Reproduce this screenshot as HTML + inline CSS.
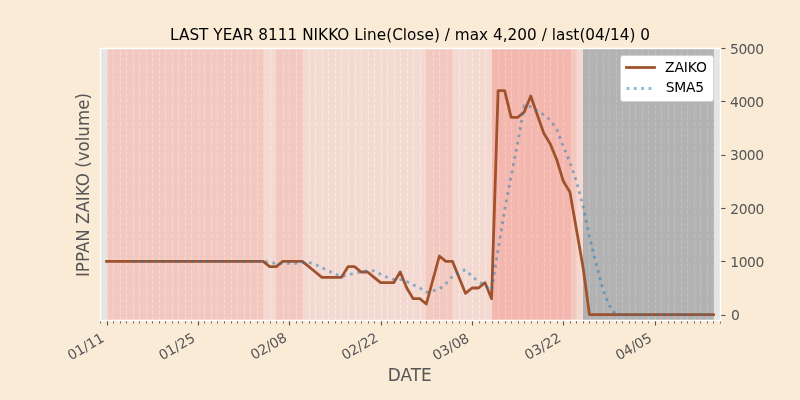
<!DOCTYPE html>
<html lang="en">
<head>
<meta charset="utf-8">
<title>LAST YEAR 8111 NIKKO</title>
<style>html,body{margin:0;padding:0;background:#faebd7;width:800px;height:400px;overflow:hidden}</style>
</head>
<body>
<svg width="800" height="400" viewBox="0 0 800 400" style="display:block;position:absolute;left:0;top:0" font-family="'DejaVu Sans', 'Liberation Sans', sans-serif">
<clipPath id="axclip"><rect x="100" y="48" width="620" height="272"/></clipPath>
<rect x="0" y="0" width="800" height="400" fill="#faebd7"/>
<rect x="100" y="48" width="620" height="272" fill="#e5e5e5"/>
<g clip-path="url(#axclip)" stroke="#ffffff" stroke-width="1.111" stroke-dasharray="4.111 1.778" fill="none">
<path d="M100.5 320.5V48.5"/>
<path d="M107.5 320.5V48.5"/>
<path d="M113.5 320.5V48.5"/>
<path d="M120.5 320.5V48.5"/>
<path d="M126.5 320.5V48.5"/>
<path d="M133.5 320.5V48.5"/>
<path d="M139.5 320.5V48.5"/>
<path d="M146.5 320.5V48.5"/>
<path d="M152.5 320.5V48.5"/>
<path d="M159.5 320.5V48.5"/>
<path d="M165.5 320.5V48.5"/>
<path d="M172.5 320.5V48.5"/>
<path d="M178.5 320.5V48.5"/>
<path d="M185.5 320.5V48.5"/>
<path d="M191.5 320.5V48.5"/>
<path d="M198.5 320.5V48.5"/>
<path d="M204.5 320.5V48.5"/>
<path d="M211.5 320.5V48.5"/>
<path d="M217.5 320.5V48.5"/>
<path d="M224.5 320.5V48.5"/>
<path d="M231.5 320.5V48.5"/>
<path d="M237.5 320.5V48.5"/>
<path d="M244.5 320.5V48.5"/>
<path d="M250.5 320.5V48.5"/>
<path d="M257.5 320.5V48.5"/>
<path d="M263.5 320.5V48.5"/>
<path d="M270.5 320.5V48.5"/>
<path d="M276.5 320.5V48.5"/>
<path d="M283.5 320.5V48.5"/>
<path d="M289.5 320.5V48.5"/>
<path d="M296.5 320.5V48.5"/>
<path d="M302.5 320.5V48.5"/>
<path d="M309.5 320.5V48.5"/>
<path d="M315.5 320.5V48.5"/>
<path d="M322.5 320.5V48.5"/>
<path d="M328.5 320.5V48.5"/>
<path d="M335.5 320.5V48.5"/>
<path d="M341.5 320.5V48.5"/>
<path d="M348.5 320.5V48.5"/>
<path d="M355.5 320.5V48.5"/>
<path d="M361.5 320.5V48.5"/>
<path d="M368.5 320.5V48.5"/>
<path d="M374.5 320.5V48.5"/>
<path d="M381.5 320.5V48.5"/>
<path d="M387.5 320.5V48.5"/>
<path d="M394.5 320.5V48.5"/>
<path d="M400.5 320.5V48.5"/>
<path d="M407.5 320.5V48.5"/>
<path d="M413.5 320.5V48.5"/>
<path d="M420.5 320.5V48.5"/>
<path d="M426.5 320.5V48.5"/>
<path d="M433.5 320.5V48.5"/>
<path d="M439.5 320.5V48.5"/>
<path d="M446.5 320.5V48.5"/>
<path d="M452.5 320.5V48.5"/>
<path d="M459.5 320.5V48.5"/>
<path d="M465.5 320.5V48.5"/>
<path d="M472.5 320.5V48.5"/>
<path d="M479.5 320.5V48.5"/>
<path d="M485.5 320.5V48.5"/>
<path d="M492.5 320.5V48.5"/>
<path d="M498.5 320.5V48.5"/>
<path d="M505.5 320.5V48.5"/>
<path d="M511.5 320.5V48.5"/>
<path d="M518.5 320.5V48.5"/>
<path d="M524.5 320.5V48.5"/>
<path d="M531.5 320.5V48.5"/>
<path d="M537.5 320.5V48.5"/>
<path d="M544.5 320.5V48.5"/>
<path d="M550.5 320.5V48.5"/>
<path d="M557.5 320.5V48.5"/>
<path d="M563.5 320.5V48.5"/>
<path d="M570.5 320.5V48.5"/>
<path d="M576.5 320.5V48.5"/>
<path d="M583.5 320.5V48.5"/>
<path d="M589.5 320.5V48.5"/>
<path d="M596.5 320.5V48.5"/>
<path d="M603.5 320.5V48.5"/>
<path d="M609.5 320.5V48.5"/>
<path d="M616.5 320.5V48.5"/>
<path d="M622.5 320.5V48.5"/>
<path d="M629.5 320.5V48.5"/>
<path d="M635.5 320.5V48.5"/>
<path d="M642.5 320.5V48.5"/>
<path d="M648.5 320.5V48.5"/>
<path d="M655.5 320.5V48.5"/>
<path d="M661.5 320.5V48.5"/>
<path d="M668.5 320.5V48.5"/>
<path d="M674.5 320.5V48.5"/>
<path d="M681.5 320.5V48.5"/>
<path d="M687.5 320.5V48.5"/>
<path d="M694.5 320.5V48.5"/>
<path d="M700.5 320.5V48.5"/>
<path d="M707.5 320.5V48.5"/>
<path d="M713.5 320.5V48.5"/>
<path d="M720.5 320.5V48.5"/>
</g>
<g clip-path="url(#axclip)" fill-opacity="0.5" stroke-opacity="0.5" stroke-width="0.694">
<rect x="107.5" y="48.5" width="156" height="272" fill="#ffad9d" stroke="#ffad9d"/>
<rect x="263.5" y="48.5" width="13" height="272" fill="#ffcdbd" stroke="#ffcdbd"/>
<rect x="276.5" y="48.5" width="26" height="272" fill="#ffad9d" stroke="#ffad9d"/>
<rect x="302.5" y="48.5" width="124" height="272" fill="#ffcdbd" stroke="#ffcdbd"/>
<rect x="426.5" y="48.5" width="26" height="272" fill="#ffad9d" stroke="#ffad9d"/>
<rect x="452.5" y="48.5" width="40" height="272" fill="#ffcdbd" stroke="#ffcdbd"/>
<rect x="492.5" y="48.5" width="78" height="272" fill="#ff8b7b" stroke="#ff8b7b"/>
<rect x="570.5" y="48.5" width="6" height="272" fill="#ffad9d" stroke="#ffad9d"/>
<rect x="576.5" y="48.5" width="7" height="272" fill="#ffcdbd" stroke="#ffcdbd"/>
<rect x="583.5" y="48.5" width="130" height="272" fill="#808080" stroke="#808080"/>
</g>
<g clip-path="url(#axclip)" fill="none" stroke-width="2.778" stroke-linejoin="round">
<polyline points="106.526,261.333 113.053,261.333 119.579,261.333 126.105,261.333 132.632,261.333 139.158,261.333 145.684,261.333 152.211,261.333 158.737,261.333 165.263,261.333 171.789,261.333 178.316,261.333 184.842,261.333 191.368,261.333 197.895,261.333 204.421,261.333 210.947,261.333 217.474,261.333 224,261.333 230.526,261.333 237.053,261.333 243.579,261.333 250.105,261.333 256.632,261.333 263.158,261.333 269.684,266.667 276.211,266.667 282.737,261.333 289.263,261.333 295.789,261.333 302.316,261.333 308.842,266.667 315.368,272 321.895,277.333 328.421,277.333 334.947,277.333 341.474,277.333 348,266.667 354.526,266.667 361.053,272 367.579,272 374.105,277.333 380.632,282.667 387.158,282.667 393.684,282.667 400.211,272 406.737,288 413.263,298.667 419.789,298.667 426.316,304 439.368,256 445.895,261.333 452.421,261.333 458.947,277.333 465.474,293.333 472,288 478.526,288 485.053,282.667 491.579,298.667 498.105,90.667 504.632,90.667 511.158,117.333 517.684,117.333 524.211,112 530.737,96 537.263,114.667 543.789,133.333 550.316,144 556.842,160 563.368,181.333 569.895,192 576.421,229.333 582.947,266.667 589.474,314.667 596,314.667 602.526,314.667 609.053,314.667 615.579,314.667 622.105,314.667 628.632,314.667 635.158,314.667 641.684,314.667 648.211,314.667 654.737,314.667 661.263,314.667 667.789,314.667 674.316,314.667 680.842,314.667 687.368,314.667 693.895,314.667 700.421,314.667 706.947,314.667 713.474,314.667" stroke="#a0522d" stroke-linecap="square"/>
<polyline points="132.632,261.333 139.158,261.333 145.684,261.333 152.211,261.333 158.737,261.333 165.263,261.333 171.789,261.333 178.316,261.333 184.842,261.333 191.368,261.333 197.895,261.333 204.421,261.333 210.947,261.333 217.474,261.333 224,261.333 230.526,261.333 237.053,261.333 243.579,261.333 250.105,261.333 256.632,261.333 263.158,261.333 269.684,262.4 276.211,263.467 282.737,263.467 289.263,263.467 295.789,263.467 302.316,262.4 308.842,262.4 315.368,264.533 321.895,267.733 328.421,270.933 334.947,274.133 341.474,276.267 348,275.2 354.526,273.067 361.053,272 367.579,270.933 374.105,270.933 380.632,274.133 387.158,277.333 393.684,279.467 400.211,279.467 406.737,281.6 413.263,284.8 419.789,288 426.316,292.267 439.368,289.067 445.895,283.733 452.421,276.267 458.947,272 465.474,269.867 472,276.267 478.526,281.6 485.053,285.867 491.579,290.133 498.105,249.6 504.632,210.133 511.158,176 517.684,142.933 524.211,105.6 530.737,106.667 537.263,111.467 543.789,114.667 550.316,120 556.842,129.6 563.368,146.667 569.895,162.133 576.421,181.333 582.947,205.867 589.474,236.8 596,263.467 602.526,288 609.053,305.067 615.579,314.667 622.105,314.667 628.632,314.667 635.158,314.667 641.684,314.667 648.211,314.667 654.737,314.667 661.263,314.667 667.789,314.667 674.316,314.667 680.842,314.667 687.368,314.667 693.895,314.667 700.421,314.667 706.947,314.667 713.474,314.667" stroke="#1f77b4" stroke-opacity="0.5" stroke-dasharray="2.778 4.583"/>
</g>
<g stroke="#555555" fill="none">
<path d="M100.5 320.5v3" stroke-width="0.833"/>
<path d="M107.5 320.5v5" stroke-width="1.111"/>
<path d="M113.5 320.5v3" stroke-width="0.833"/>
<path d="M120.5 320.5v3" stroke-width="0.833"/>
<path d="M126.5 320.5v3" stroke-width="0.833"/>
<path d="M133.5 320.5v3" stroke-width="0.833"/>
<path d="M139.5 320.5v3" stroke-width="0.833"/>
<path d="M146.5 320.5v3" stroke-width="0.833"/>
<path d="M152.5 320.5v3" stroke-width="0.833"/>
<path d="M159.5 320.5v3" stroke-width="0.833"/>
<path d="M165.5 320.5v3" stroke-width="0.833"/>
<path d="M172.5 320.5v3" stroke-width="0.833"/>
<path d="M178.5 320.5v3" stroke-width="0.833"/>
<path d="M185.5 320.5v3" stroke-width="0.833"/>
<path d="M191.5 320.5v3" stroke-width="0.833"/>
<path d="M198.5 320.5v5" stroke-width="1.111"/>
<path d="M204.5 320.5v3" stroke-width="0.833"/>
<path d="M211.5 320.5v3" stroke-width="0.833"/>
<path d="M217.5 320.5v3" stroke-width="0.833"/>
<path d="M224.5 320.5v3" stroke-width="0.833"/>
<path d="M231.5 320.5v3" stroke-width="0.833"/>
<path d="M237.5 320.5v3" stroke-width="0.833"/>
<path d="M244.5 320.5v3" stroke-width="0.833"/>
<path d="M250.5 320.5v3" stroke-width="0.833"/>
<path d="M257.5 320.5v3" stroke-width="0.833"/>
<path d="M263.5 320.5v3" stroke-width="0.833"/>
<path d="M270.5 320.5v3" stroke-width="0.833"/>
<path d="M276.5 320.5v3" stroke-width="0.833"/>
<path d="M283.5 320.5v3" stroke-width="0.833"/>
<path d="M289.5 320.5v5" stroke-width="1.111"/>
<path d="M296.5 320.5v3" stroke-width="0.833"/>
<path d="M302.5 320.5v3" stroke-width="0.833"/>
<path d="M309.5 320.5v3" stroke-width="0.833"/>
<path d="M315.5 320.5v3" stroke-width="0.833"/>
<path d="M322.5 320.5v3" stroke-width="0.833"/>
<path d="M328.5 320.5v3" stroke-width="0.833"/>
<path d="M335.5 320.5v3" stroke-width="0.833"/>
<path d="M341.5 320.5v3" stroke-width="0.833"/>
<path d="M348.5 320.5v3" stroke-width="0.833"/>
<path d="M355.5 320.5v3" stroke-width="0.833"/>
<path d="M361.5 320.5v3" stroke-width="0.833"/>
<path d="M368.5 320.5v3" stroke-width="0.833"/>
<path d="M374.5 320.5v3" stroke-width="0.833"/>
<path d="M381.5 320.5v5" stroke-width="1.111"/>
<path d="M387.5 320.5v3" stroke-width="0.833"/>
<path d="M394.5 320.5v3" stroke-width="0.833"/>
<path d="M400.5 320.5v3" stroke-width="0.833"/>
<path d="M407.5 320.5v3" stroke-width="0.833"/>
<path d="M413.5 320.5v3" stroke-width="0.833"/>
<path d="M420.5 320.5v3" stroke-width="0.833"/>
<path d="M426.5 320.5v3" stroke-width="0.833"/>
<path d="M433.5 320.5v3" stroke-width="0.833"/>
<path d="M439.5 320.5v3" stroke-width="0.833"/>
<path d="M446.5 320.5v3" stroke-width="0.833"/>
<path d="M452.5 320.5v3" stroke-width="0.833"/>
<path d="M459.5 320.5v3" stroke-width="0.833"/>
<path d="M465.5 320.5v3" stroke-width="0.833"/>
<path d="M472.5 320.5v5" stroke-width="1.111"/>
<path d="M479.5 320.5v3" stroke-width="0.833"/>
<path d="M485.5 320.5v3" stroke-width="0.833"/>
<path d="M492.5 320.5v3" stroke-width="0.833"/>
<path d="M498.5 320.5v3" stroke-width="0.833"/>
<path d="M505.5 320.5v3" stroke-width="0.833"/>
<path d="M511.5 320.5v3" stroke-width="0.833"/>
<path d="M518.5 320.5v3" stroke-width="0.833"/>
<path d="M524.5 320.5v3" stroke-width="0.833"/>
<path d="M531.5 320.5v3" stroke-width="0.833"/>
<path d="M537.5 320.5v3" stroke-width="0.833"/>
<path d="M544.5 320.5v3" stroke-width="0.833"/>
<path d="M550.5 320.5v3" stroke-width="0.833"/>
<path d="M557.5 320.5v3" stroke-width="0.833"/>
<path d="M563.5 320.5v5" stroke-width="1.111"/>
<path d="M570.5 320.5v3" stroke-width="0.833"/>
<path d="M576.5 320.5v3" stroke-width="0.833"/>
<path d="M583.5 320.5v3" stroke-width="0.833"/>
<path d="M589.5 320.5v3" stroke-width="0.833"/>
<path d="M596.5 320.5v3" stroke-width="0.833"/>
<path d="M603.5 320.5v3" stroke-width="0.833"/>
<path d="M609.5 320.5v3" stroke-width="0.833"/>
<path d="M616.5 320.5v3" stroke-width="0.833"/>
<path d="M622.5 320.5v3" stroke-width="0.833"/>
<path d="M629.5 320.5v3" stroke-width="0.833"/>
<path d="M635.5 320.5v3" stroke-width="0.833"/>
<path d="M642.5 320.5v3" stroke-width="0.833"/>
<path d="M648.5 320.5v3" stroke-width="0.833"/>
<path d="M655.5 320.5v5" stroke-width="1.111"/>
<path d="M661.5 320.5v3" stroke-width="0.833"/>
<path d="M668.5 320.5v3" stroke-width="0.833"/>
<path d="M674.5 320.5v3" stroke-width="0.833"/>
<path d="M681.5 320.5v3" stroke-width="0.833"/>
<path d="M687.5 320.5v3" stroke-width="0.833"/>
<path d="M694.5 320.5v3" stroke-width="0.833"/>
<path d="M700.5 320.5v3" stroke-width="0.833"/>
<path d="M707.5 320.5v3" stroke-width="0.833"/>
<path d="M713.5 320.5v3" stroke-width="0.833"/>
<path d="M720.5 320.5v3" stroke-width="0.833"/>
<path d="M720.5 315.5h5" stroke-width="1.111"/>
<path d="M720.5 261.5h5" stroke-width="1.111"/>
<path d="M720.5 208.5h5" stroke-width="1.111"/>
<path d="M720.5 155.5h5" stroke-width="1.111"/>
<path d="M720.5 101.5h5" stroke-width="1.111"/>
<path d="M720.5 48.5h5" stroke-width="1.111"/>
</g>
<g stroke="#ffffff" stroke-width="1.389" stroke-linecap="square" fill="none">
<path d="M100.5 320.5V48.5"/><path d="M720.5 320.5V48.5"/><path d="M100.5 320.5H720.5"/><path d="M100.5 48.5H720.5"/>
</g>
<g fill="#555555" font-size="13.889">
<text transform="translate(71.119 360.515) rotate(-30)" textLength="39.3">01/11</text>
<text transform="translate(162.137 360.505) rotate(-30)" textLength="39.3">01/25</text>
<text transform="translate(253.905 360.085) rotate(-30)" textLength="39.3">02/08</text>
<text transform="translate(345.114 360.215) rotate(-30)" textLength="39.3">02/22</text>
<text transform="translate(436.042 360.725) rotate(-30)" textLength="39.3">03/08</text>
<text transform="translate(527.961 360.325) rotate(-30)" textLength="39.3">03/22</text>
<text transform="translate(618.969 360.485) rotate(-30)" textLength="39.3">04/05</text>
<text x="730.892" y="320">0</text>
<text x="730.272" y="267" textLength="34.1">1000</text>
<text x="730.352" y="214" textLength="34.1">2000</text>
<text x="730.022" y="160" textLength="34.1">3000</text>
<text x="730.022" y="107" textLength="34.1">4000</text>
<text x="730.022" y="54" textLength="34.1">5000</text>
</g>
<g fill="#555555" font-size="16.667" text-anchor="middle">
<text transform="translate(409.75 380.8) scale(1.015 1.07)">DATE</text>
<text transform="translate(89.318 185.09) rotate(-90) scale(1 1.07)">IPPAN ZAIKO (volume)</text>
</g>
<text x="410.05" y="40" font-size="15.278" text-anchor="middle" fill="#000000" textLength="480">LAST YEAR 8111 NIKKO Line(Close) / max 4,200 / last(04/14) 0</text>
<path d="M623.278 101.5H710.722Q713.5 101.5 713.5 98.722V58.278Q713.5 55.5 710.722 55.5H623.278Q620.5 55.5 620.5 58.278V98.722Q620.5 101.5 623.278 101.5Z" fill="#ffffff" stroke="#cccccc" stroke-width="0.694"/>
<path d="M626.5 67.5H654.5" stroke="#a0522d" stroke-width="2.778" stroke-linecap="square" fill="none"/>
<path d="M626.5 88.5H654.5" stroke="#1f77b4" stroke-opacity="0.5" stroke-width="2.778" stroke-dasharray="2.778 4.583" fill="none"/>
<g fill="#000000" font-size="13.889">
<text x="665.111" y="72" textLength="41.85">ZAIKO</text>
<text x="665.811" y="92" textLength="38.2">SMA5</text>
</g>
</svg>
</body>
</html>
